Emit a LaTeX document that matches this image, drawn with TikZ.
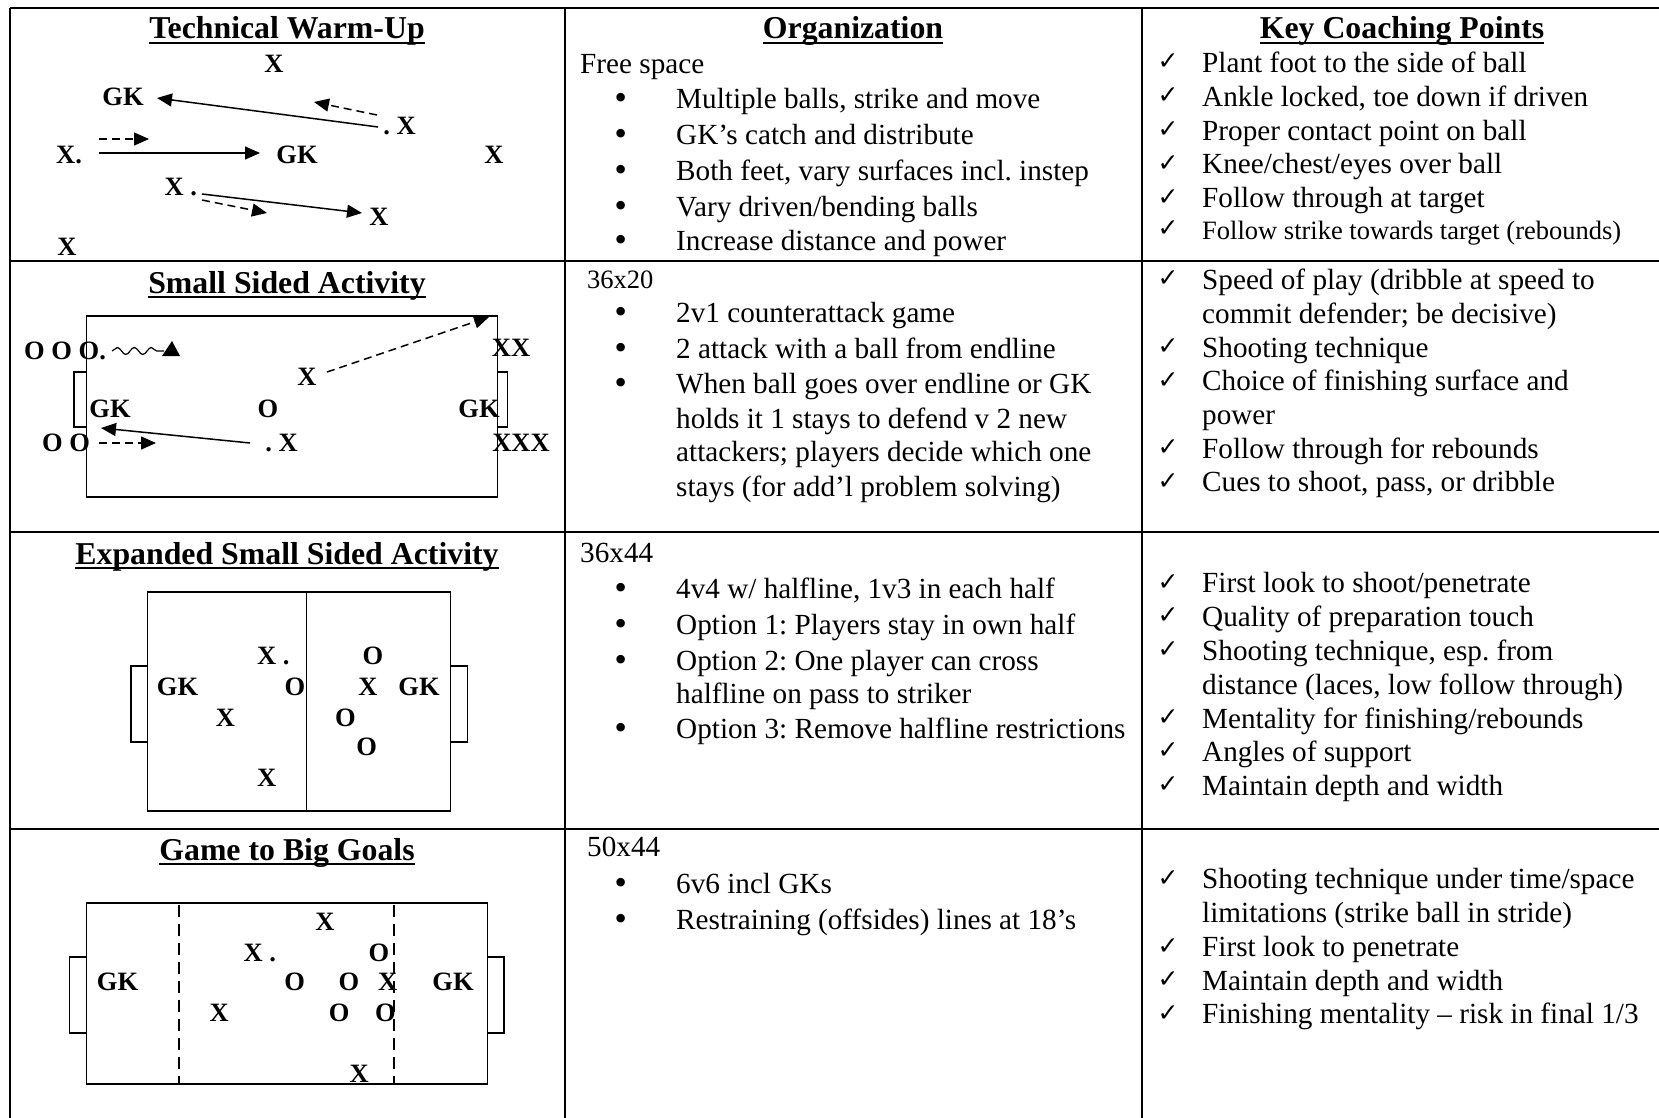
\documentclass[tikz,border=0pt]{standalone}
\usepackage{fontspec}
\setmainfont{Liberation Serif}
\newfontfamily\symfont{DejaVu Sans}
\usetikzlibrary{arrows.meta,decorations.pathmorphing}
\frenchspacing
\tikzset{
  tbl/.style={line width=2pt},
  hd/.style={font=\fontsize{31.8}{36}\selectfont\bfseries, anchor=base, inner sep=0pt},
  tx/.style={font=\fontsize{29.2}{34}\selectfont, anchor=base west, inner sep=0pt},
  txs/.style={font=\fontsize{26.5}{31}\selectfont, anchor=base west, inner sep=0pt},
  bul/.style={font=\symfont\fontsize{29.2}{34}\selectfont, anchor=base, inner sep=0pt},
  chk/.style={font=\symfont\bfseries\fontsize{25}{30}\selectfont, anchor=base, inner sep=0pt},
  pl/.style={font=\fontsize{26.5}{30}\selectfont\bfseries, inner sep=0pt},
  fld/.style={line width=1.4pt},
  arr/.style={line width=1.5pt, -{Triangle[length=15pt,width=13pt]}},
  darr/.style={arr, dash pattern=on 8pt off 5pt},
  uline/.style={line width=2pt},
}
\begin{document}
\begin{tikzpicture}[x=1pt,y=-1pt]
\useasboundingbox (0,0) rectangle (1659,1118);
\clip (0,0) rectangle (1659,1118);
\fill[white] (0,0) rectangle (1659,1118);
% table
\draw[tbl] (9.5,8.5) -- (1670,8.5);
\draw[tbl] (9.5,261) -- (1670,261);
\draw[tbl] (9.5,532) -- (1670,532);
\draw[tbl] (9.5,829) -- (1670,829);
\draw[tbl] (9.5,8.5) -- (9.5,1130);
\draw[tbl] (565,8.5) -- (565,1130);
\draw[tbl] (1142,8.5) -- (1142,1130);
\draw[tbl] (1661,8.5) -- (1661,1130);

% titles
\node[hd] (h1) at (287,39) {Technical Warm-Up};
\node[hd] (h2) at (853,39) {Organization};
\node[hd] (h3) at (1402,39) {Key Coaching Points};
\node[hd] (h4) at (287,293) {Small Sided Activity};
\node[hd] (h5) at (287,564) {Expanded Small Sided Activity};
\node[hd] (h6) at (287,860) {Game to Big Goals};
\foreach \n in {h1,h2,h3,h4,h5,h6}
  \draw[uline] ([yshift=-4pt]\n.base west) -- ([yshift=-4pt]\n.base east);

% ---- Row 1, Organization
\node[tx] (o1h) at (580,73.5) {Free space};
\node[bul] (o1b1) at (621,109) {•}; \node[tx] (o1t1) at (676,109) {Multiple balls, strike and move};
\node[bul] (o1b2) at (621,145) {•}; \node[tx] (o1t2) at (676,145) {GK’s catch and distribute};
\node[bul] (o1b3) at (621,181) {•}; \node[tx] (o1t3) at (676,181) {Both feet, vary surfaces incl. instep};
\node[bul] (o1b4) at (621,216.5) {•}; \node[tx] (o1t4) at (676,216.5) {Vary driven/bending balls};
\node[bul] (o1b5) at (621,250) {•}; \node[tx] (o1t5) at (676,250) {Increase distance and power};

% ---- Row 1, Key points
\node[chk] (k1c1) at (1168,70) {✓}; \node[tx] (k1t1) at (1202,72.5) {Plant foot to the side of ball};
\node[chk] (k1c2) at (1168,104) {✓}; \node[tx] (k1t2) at (1202,106.5) {Ankle locked, toe down if driven};
\node[chk] (k1c3) at (1168,138) {✓}; \node[tx] (k1t3) at (1202,140.5) {Proper contact point on ball};
\node[chk] (k1c4) at (1168,171.5) {✓}; \node[tx] (k1t4) at (1202,174) {Knee/chest/eyes over ball};
\node[chk] (k1c5) at (1168,205) {✓}; \node[tx] (k1t5) at (1202,207.5) {Follow through at target};
\node[chk] (k1c6) at (1168,236.5) {✓}; \node[txs] (k1t6) at (1202,239) {Follow strike towards target (rebounds)};

% ---- Row 2, Organization
\node[txs] (o2h) at (587,288) {36x20};
\node[bul] (o2b1) at (621,322.5) {•}; \node[tx] (o2t1) at (676,322.5) {2v1 counterattack game};
\node[bul] (o2b2) at (621,358) {•}; \node[tx] (o2t2) at (676,358) {2 attack with a ball from endline};
\node[bul] (o2b3) at (621,393.5) {•}; \node[tx] (o2t3) at (676,393.5) {When ball goes over endline or GK};
\node[tx] (o2t4) at (676,428) {holds it 1 stays to defend v 2 new};
\node[tx] (o2t5) at (676,461.5) {attackers; players decide which one};
\node[tx] (o2t6) at (676,496) {stays (for add’l problem solving)};

% ---- Row 2, Key points
\node[chk] (k2c1) at (1168,286.5) {✓}; \node[tx] (k2t1) at (1202,289) {Speed of play (dribble at speed to};
\node[tx] (k2t2) at (1202,323) {commit defender; be decisive)};
\node[chk] (k2c3) at (1168,354.5) {✓}; \node[tx] (k2t3) at (1202,357) {Shooting technique};
\node[chk] (k2c4) at (1168,388) {✓}; \node[tx] (k2t4) at (1202,390.5) {Choice of finishing surface and};
\node[tx] (k2t5) at (1202,424) {power};
\node[chk] (k2c6) at (1168,455.5) {✓}; \node[tx] (k2t6) at (1202,458) {Follow through for rebounds};
\node[chk] (k2c7) at (1168,489) {✓}; \node[tx] (k2t7) at (1202,491.5) {Cues to shoot, pass, or dribble};

% ---- Row 3, Organization
\node[tx] (o3h) at (580,562) {36x44};
\node[bul] (o3b1) at (621,598) {•}; \node[tx] (o3t1) at (676,598) {4v4 w/ halfline, 1v3 in each half};
\node[bul] (o3b2) at (621,634) {•}; \node[tx] (o3t2) at (676,634) {Option 1: Players stay in own half};
\node[bul] (o3b3) at (621,670) {•}; \node[tx] (o3t3) at (676,670) {Option 2: One player can cross};
\node[tx] (o3t4) at (676,703) {halfline on pass to striker};
\node[bul] (o3b5) at (621,738.5) {•}; \node[tx] (o3t5) at (676,738.5) {Option 3: Remove halfline restrictions};

% ---- Row 3, Key points
\node[chk] (k3c1) at (1168,590) {✓}; \node[tx] (k3t1) at (1202,592.5) {First look to shoot/penetrate};
\node[chk] (k3c2) at (1168,623.5) {✓}; \node[tx] (k3t2) at (1202,626) {Quality of preparation touch};
\node[chk] (k3c3) at (1168,657.5) {✓}; \node[tx] (k3t3) at (1202,660) {Shooting technique, esp. from};
\node[tx] (k3t4) at (1202,694) {distance (laces, low follow through)};
\node[chk] (k3c5) at (1168,725.5) {✓}; \node[tx] (k3t5) at (1202,728) {Mentality for finishing/rebounds};
\node[chk] (k3c6) at (1168,758.5) {✓}; \node[tx] (k3t6) at (1202,761) {Angles of support};
\node[chk] (k3c7) at (1168,792.5) {✓}; \node[tx] (k3t7) at (1202,795) {Maintain depth and width};

% ---- Row 4, Organization
\node[tx] (o4h) at (587,856.5) {50x44};
\node[bul] (o4b1) at (621,893) {•}; \node[tx] (o4t1) at (676,893) {6v6 incl GKs};
\node[bul] (o4b2) at (621,929) {•}; \node[tx] (o4t2) at (676,929) {Restraining (offsides) lines at 18’s};

% ---- Row 4, Key points
\node[chk] (k4c1) at (1168,886) {✓}; \node[tx] (k4t1) at (1202,888.5) {Shooting technique under time/space};
\node[tx] (k4t2) at (1202,922.5) {limitations (strike ball in stride)};
\node[chk] (k4c3) at (1168,954) {✓}; \node[tx] (k4t3) at (1202,956.5) {First look to penetrate};
\node[chk] (k4c4) at (1168,987.5) {✓}; \node[tx] (k4t4) at (1202,990) {Maintain depth and width};
\node[chk] (k4c5) at (1168,1021) {✓}; \node[tx] (k4t5) at (1202,1023.5) {Finishing mentality – risk in final 1/3};

% ================= Diagram 1: Technical warm-up
\node[pl] (d1x1) at (274,64) {X};
\node[pl] (d1gk1) at (123,97) {GK};
\node[pl, anchor=east] (d1x2) at (416,126) {. X};
\node[pl] (d1x3) at (69,155) {X.};
\node[pl] (d1gk2) at (297,155) {GK};
\node[pl] (d1x4) at (494,155) {X};
\node[pl, anchor=west] (d1x5) at (164.4,187) {X .};
\node[pl] (d1x6) at (379,217) {X};
\node[pl] (d1x7) at (67,247) {X};
\coordinate (d1a1s) at (378,127); \coordinate (d1a1e) at (157,98);
\coordinate (d1a2s) at (377,115); \coordinate (d1a2e) at (314,102);
\coordinate (d1a3s) at (99,139);  \coordinate (d1a3e) at (149,139);
\coordinate (d1a4s) at (99,153);  \coordinate (d1a4e) at (260,153);
\coordinate (d1a5s) at (202,194); \coordinate (d1a5e) at (362,213);
\coordinate (d1a6s) at (202,200); \coordinate (d1a6e) at (267,213);
\draw[arr] (d1a1s) -- (d1a1e);
\draw[darr] (d1a2s) -- (d1a2e);
\draw[darr] (d1a3s) -- (d1a3e);
\draw[arr] (d1a4s) -- (d1a4e);
\draw[arr] (d1a5s) -- (d1a5e);
\draw[darr] (d1a6s) -- (d1a6e);

% ================= Diagram 2: Small sided
\draw[fld] (86.6,316) rectangle (497.5,497);
\draw[fld] (86.6,372) -- (74,372) -- (74,427) -- (86.6,427);
\draw[fld] (497.5,372) -- (507.3,372) -- (507.3,427) -- (497.5,427);
\node[pl, anchor=west] (d2o1) at (24,351) {O O O.};
\coordinate (d2ws) at (112,351); \coordinate (d2we) at (164,351);
\draw[line width=1.2pt, decorate, decoration={snake, segment length=17pt, amplitude=3.5pt}] (d2ws) -- (d2we);
\fill (162,356) -- (180,356) -- (172,341) -- cycle;
\node[pl] (d2xx) at (511,348) {XX};
\node[pl] (d2x1) at (307,377) {X};
\coordinate (d2a1s) at (327,372); \coordinate (d2a1e) at (489,317);
\draw[darr] (d2a1s) -- (d2a1e);
\node[pl] (d2gk1) at (110,409) {GK};
\node[pl] (d2o2) at (268,409) {O};
\node[pl] (d2gk2) at (479,409) {GK};
\node[pl, anchor=east] (d2x2) at (298,443) {. X};
\coordinate (d2a2s) at (250,443); \coordinate (d2a2e) at (101,428);
\draw[arr] (d2a2s) -- (d2a2e);
\node[pl, anchor=west] (d2o3) at (42,443) {O O};
\coordinate (d2a3s) at (99,443); \coordinate (d2a3e) at (156,443);
\draw[darr] (d2a3s) -- (d2a3e);
\node[pl] (d2xxx) at (521,443) {XXX};

% ================= Diagram 3: Expanded
\draw[fld] (147.7,592) rectangle (450.2,811);
\draw[fld] (306.6,592) -- (306.6,811);
\draw[fld] (147.7,666) -- (131,666) -- (131,742) -- (147.7,742);
\draw[fld] (450.2,666) -- (467.3,666) -- (467.3,742) -- (450.2,742);
\node[pl, anchor=west] (d3x1) at (257,656) {X .};
\node[pl] (d3o1) at (373,656) {O};
\node[pl] (d3gk1) at (177.5,687) {GK};
\node[pl] (d3o2) at (295,687) {O};
\node[pl] (d3x2) at (368,687) {X};
\node[pl] (d3gk2) at (419,687) {GK};
\node[pl] (d3x3) at (225.5,718) {X};
\node[pl] (d3o3) at (345.5,718) {O};
\node[pl] (d3o4) at (366.6,747) {O};
\node[pl] (d3x4) at (266.6,778) {X};

% ================= Diagram 4: Game to big goals
\draw[fld] (86.6,903) rectangle (487.3,1084);
\draw[line width=2pt, dash pattern=on 12pt off 7pt] (179.3,905) -- (179.3,1084);
\draw[line width=2pt, dash pattern=on 12pt off 7pt] (393.9,905) -- (393.9,1084);
\draw[fld] (86.6,957) -- (69.5,957) -- (69.5,1033) -- (86.6,1033);
\draw[fld] (487.3,957) -- (504,957) -- (504,1033) -- (487.3,1033);
\node[pl] (d4x1) at (325,922) {X};
\node[pl, anchor=west] (d4x2) at (243.3,953) {X .};
\node[pl] (d4o1) at (379,953) {O};
\node[pl] (d4gk1) at (117.5,982) {GK};
\node[pl] (d4o2) at (294.6,982) {O};
\node[pl] (d4o3) at (349,982) {O};
\node[pl] (d4x3) at (387.7,982) {X};
\node[pl] (d4gk2) at (453,982) {GK};
\node[pl] (d4x4) at (219.3,1013) {X};
\node[pl] (d4o4) at (339.3,1013) {O};
\node[pl] (d4o5) at (385.5,1013) {O};
\node[pl] (d4x5) at (359.3,1074) {X};
\end{tikzpicture}
\end{document}
